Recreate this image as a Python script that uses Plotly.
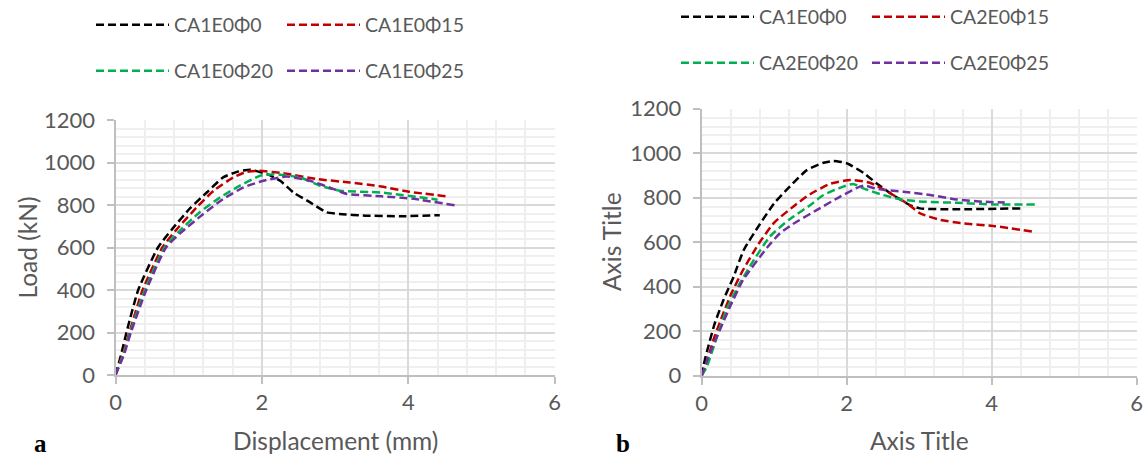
import plotly.graph_objects as go

W, H = 1145, 457


def px(x):
    return x / W


def py(y):
    return 1 - y / H


# ---------------- data ----------------
a_names = ["CA1E0Φ0", "CA1E0Φ15", "CA1E0Φ20", "CA1E0Φ25"]
b_names = ["CA1E0Φ0", "CA2E0Φ15", "CA2E0Φ20", "CA2E0Φ25"]

# panel a : displacement (mm) / load (kN)
a0_x = [0, 0.08, 0.15, 0.31, 0.58, 0.77, 1.02, 1.25, 1.47, 1.66, 1.84, 2.07, 2.25, 2.43, 2.66, 2.88, 3.06, 3.42, 3.88, 4.43]
a0_y = [0, 100, 200, 400, 600, 685, 785, 860, 930, 956, 966, 945, 914, 859, 812, 766, 758, 750, 747, 752]
a15_x = [0, 0.10, 0.19, 0.37, 0.64, 0.84, 1.11, 1.34, 1.61, 1.79, 1.95, 2.29, 2.75, 3.20, 3.63, 4.02, 4.55]
a15_y = [0, 100, 200, 400, 600, 687, 789, 867, 930, 956, 961, 950, 922, 906, 887, 862, 840]
a20_x = [0, 0.11, 0.20, 0.40, 0.67, 0.88, 1.15, 1.43, 1.70, 1.97, 2.16, 2.52, 2.79, 3.07, 3.63, 4.40]
a20_y = [0, 100, 200, 400, 600, 680, 766, 836, 891, 937, 945, 930, 891, 867, 859, 825]
a25_x = [0, 0.12, 0.21, 0.42, 0.69, 0.90, 1.20, 1.47, 1.75, 2.02, 2.34, 2.66, 2.98, 3.16, 3.63, 4.07, 4.66]
a25_y = [0, 100, 200, 400, 600, 672, 758, 828, 883, 914, 934, 914, 875, 852, 841, 829, 797]

# panel b
b0_x = [0, 0.02, 0.09, 0.18, 0.30, 0.44, 0.58, 0.78, 1.00, 1.20, 1.45, 1.68, 1.82, 2.00, 2.23, 2.41, 2.64, 2.87, 3.01, 3.52, 4.41]
b0_y = [0, 40, 130, 235, 340, 445, 565, 670, 775, 845, 924, 957, 965, 955, 912, 865, 812, 767, 752, 748, 752]
b15_x = [0, 0.05, 0.16, 0.28, 0.41, 0.57, 0.78, 1.00, 1.27, 1.49, 1.77, 2.05, 2.32, 2.60, 2.83, 3.01, 3.29, 3.60, 4.02, 4.58]
b15_y = [0, 40, 160, 265, 370, 475, 590, 688, 762, 815, 862, 880, 867, 820, 775, 730, 700, 685, 673, 647]
b20_x = [0, 0.07, 0.21, 0.34, 0.50, 0.69, 0.94, 1.20, 1.49, 1.68, 1.95, 2.09, 2.23, 2.50, 2.78, 3.06, 3.52, 4.02, 4.60]
b20_y = [0, 40, 175, 295, 400, 505, 625, 700, 765, 812, 850, 862, 842, 812, 790, 782, 777, 770, 770]
b25_x = [0, 0.11, 0.25, 0.39, 0.57, 0.90, 1.08, 1.25, 1.59, 1.91, 2.18, 2.25, 2.41, 2.78, 3.15, 3.52, 3.88, 4.18]
b25_y = [0, 100, 205, 310, 430, 575, 640, 680, 745, 805, 850, 855, 840, 827, 812, 792, 782, 778]

colors = ["#000000", "#C00000", "#00B050", "#7030A0"]

x_ticks = [0, 2, 4, 6]
y_ticks = [0, 200, 400, 600, 800, 1000, 1200]

FONT = "Lato, 'Open Sans', sans-serif"
TXT = "#595959"

fig = go.Figure()

a_series = [(a0_x, a0_y), (a15_x, a15_y), (a20_x, a20_y), (a25_x, a25_y)]
b_series = [(b0_x, b0_y), (b15_x, b15_y), (b20_x, b20_y), (b25_x, b25_y)]
a_legends = ["legend", "legend", "legend2", "legend2"]
b_legends = ["legend3", "legend3", "legend4", "legend4"]
# first entry of each legend row gets a fixed width (column spacing), second is wide enough not to clip
entry_w = [103, 140, 103, 140]

for i, (xs, ys) in enumerate(a_series):
    fig.add_trace(go.Scatter(x=xs, y=ys, mode="lines", name=a_names[i],
                             line=dict(color=colors[i], width=2.5, dash="8px,4px", shape="spline", smoothing=0.5),
                             xaxis="x", yaxis="y", legend=a_legends[i], legendwidth=entry_w[i]))
for i, (xs, ys) in enumerate(b_series):
    fig.add_trace(go.Scatter(x=xs, y=ys, mode="lines", name=b_names[i],
                             line=dict(color=colors[i], width=2.5, dash="8px,4px", shape="spline", smoothing=0.5),
                             xaxis="x2", yaxis="y2", legend=b_legends[i], legendwidth=entry_w[i]))

axis_common = dict(
    showline=True, linecolor="#bfbfbf", linewidth=2,
    ticks="outside", ticklen=7, tickcolor="#bfbfbf", tickwidth=2,
    showgrid=True, gridcolor="#d9d9d9", gridwidth=1.5,
    zeroline=False, automargin=False,
    tickfont=dict(family=FONT, size=22, color=TXT),
)
xminor = dict(dtick=0.4, showgrid=True, gridcolor="#efefef", gridwidth=1.5)
yminor = dict(dtick=40, showgrid=True, gridcolor="#efefef", gridwidth=1.5)

fig.update_layout(
    width=W, height=H,
    margin=dict(l=0, r=0, t=0, b=0, autoexpand=False),
    paper_bgcolor="white", plot_bgcolor="white",
    xaxis=dict(domain=[px(115.5), px(554.7)], range=[0, 6], tickvals=x_ticks, anchor="y",
               minor=xminor, ticklabelstandoff=0, **axis_common),
    yaxis=dict(domain=[py(375), py(120)], range=[0, 1200], tickvals=y_ticks, anchor="x",
               minor=yminor, ticklabelstandoff=7, **axis_common),
    xaxis2=dict(domain=[px(701.7), px(1136.7)], range=[0, 6], tickvals=x_ticks, anchor="y2",
                minor=xminor, ticklabelstandoff=0, **axis_common),
    yaxis2=dict(domain=[py(375.7), py(108.7)], range=[0, 1200], tickvals=y_ticks, anchor="x2",
                minor=yminor, ticklabelstandoff=7, **axis_common),
    showlegend=True,
)

leg_common = dict(orientation="h", xanchor="left", yanchor="middle", itemwidth=73,
                  xref="container", yref="container", bgcolor="rgba(0,0,0,0)",
                  font=dict(family=FONT, size=19.5, color=TXT), itemclick=False, itemdoubleclick=False)
fig.update_layout(
    legend=dict(x=px(91), y=py(25), **leg_common),
    legend2=dict(x=px(91), y=py(71), **leg_common),
    legend3=dict(x=px(676), y=py(17), **leg_common),
    legend4=dict(x=px(676), y=py(63), **leg_common),
)

ann_font = dict(family=FONT, size=24.5, color=TXT)
annotations = [
    dict(text="Displacement (mm)", x=px(335), y=py(440), font=ann_font),
    dict(text="Axis Title", x=px(919), y=py(440), font=ann_font),
    dict(text="Load (kN)", x=px(27), y=py(247.5), textangle=-90, font=ann_font),
    dict(text="Axis Title", x=px(611), y=py(242), textangle=-90, font=ann_font),
    dict(text="<b>a</b>", x=px(40), y=py(443), font=dict(family="Liberation Serif", size=25, color="#000000")),
    dict(text="<b>b</b>", x=px(623), y=py(443), font=dict(family="Liberation Serif", size=25, color="#000000")),
]
for a in annotations:
    a.update(xref="paper", yref="paper", showarrow=False, xanchor="center", yanchor="middle")
fig.update_layout(annotations=annotations)

fig.write_html("out.html")
